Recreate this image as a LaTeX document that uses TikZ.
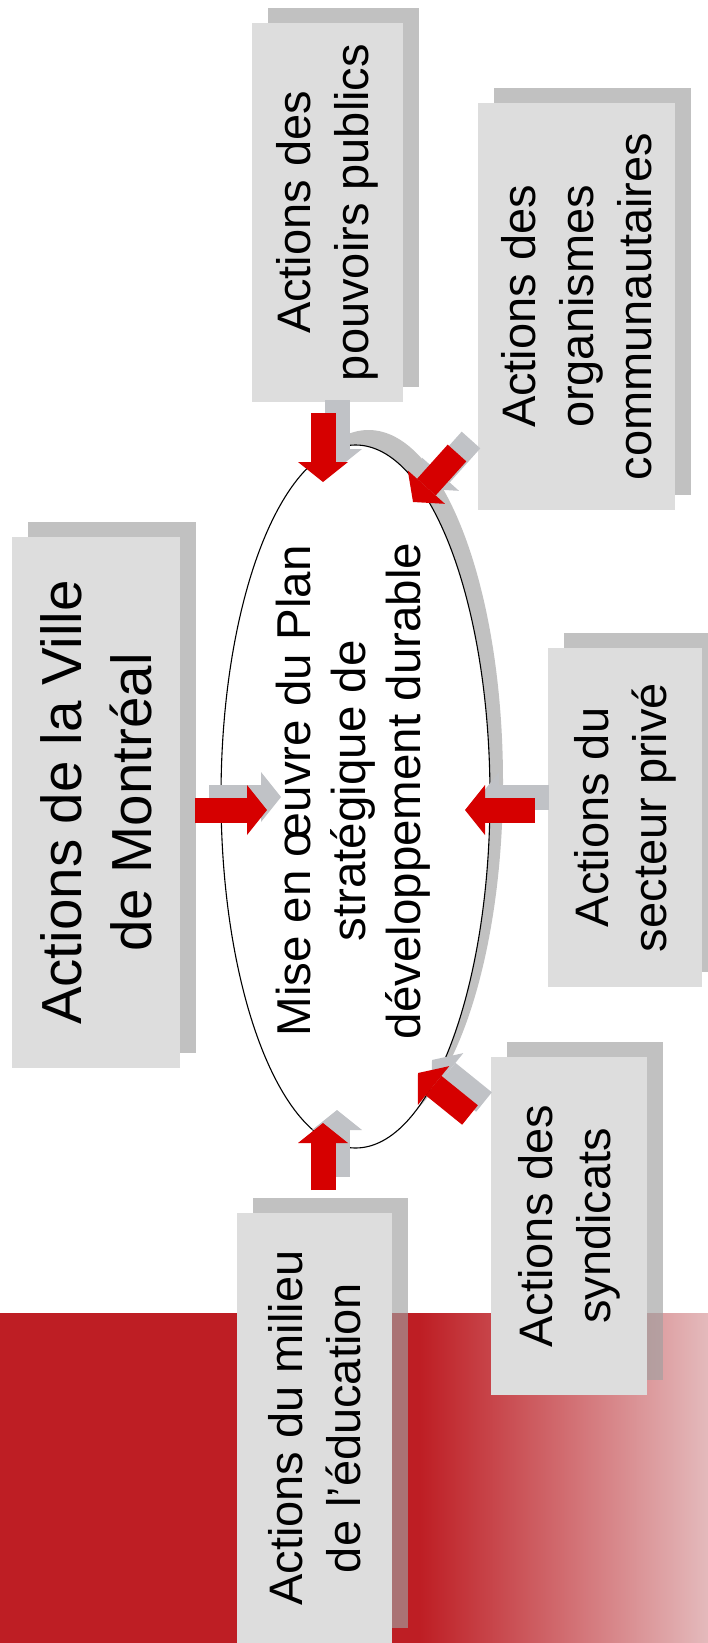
\documentclass[tikz,border=0pt]{standalone}
\usepackage{fontspec}
\setmainfont{Liberation Sans}
\usetikzlibrary{shapes.geometric,arrows.meta,calc,backgrounds}

\definecolor{boxgray}{RGB}{221,221,221}
\definecolor{shadowgray}{RGB}{160,160,160}
\definecolor{arrowred}{RGB}{214,0,0}
\definecolor{arrowshadow}{RGB}{192,194,198}
\definecolor{bandred}{RGB}{190,30,36}
\definecolor{bandpink}{RGB}{228,186,188}

\tikzset{
  actor/.style={rotate=90, fill=boxgray, inner sep=0pt, align=center,
    font=\fontsize{47}{58}\selectfont},
  boxshadow/.style={fill=shadowgray, fill opacity=0.65},
  flow/.style={draw=arrowred, line width=25pt,
    -{Triangle[width=50pt,length=20pt,line width=0pt]}},
  flowshadow/.style={flow, draw=arrowshadow},
}

\begin{document}
\begin{tikzpicture}[x=1pt,y=-1pt]
  \useasboundingbox (0,0) rectangle (708,1643);

  % Actors
  \node[actor, minimum width=531pt, minimum height=168pt,
    font=\fontsize{56.5}{70}\selectfont] (ville) at (96,802.5)
    {Actions de la Ville\\de Montréal};
  \node[actor, minimum width=379pt, minimum height=151pt] (pouvoirs) at (327.5,212.5)
    {Actions des\\pouvoirs publics};
  \node[actor, minimum width=407pt, minimum height=197pt] (organismes) at (576.5,306.5)
    {Actions des\\organismes\\communautaires};
  \node[actor, minimum width=339pt, minimum height=154pt] (secteur) at (625,817.5)
    {Actions du\\secteur privé};
  \node[actor, minimum width=338pt, minimum height=156pt] (syndicats) at (569,1226)
    {Actions des\\syndicats};
  \node[actor, minimum width=430pt, minimum height=155pt] (education) at (314.5,1428)
    {Actions du milieu\\de l’éducation};

  % Plan
  \node[ellipse, draw, line width=1.1pt, fill=white, inner sep=0pt,
    minimum width=269pt, minimum height=703pt] (plan) at (355.5,796.5) {};
  \node[rotate=90, align=center, font=\fontsize{47.5}{55}\selectfont] (plantext)
    at (353,791) {Mise en œuvre du Plan\\stratégique de\\développement durable};

  % Arrows
  \coordinate (out-ville) at (195,810);       \coordinate (in-ville) at (267,810);
  \coordinate (out-pouvoirs) at (323,413);    \coordinate (in-pouvoirs) at (323,482);
  \coordinate (out-organismes) at (457,453);  \coordinate (in-organismes) at (413,502);
  \coordinate (out-secteur) at (535,810);     \coordinate (in-secteur) at (465,810);
  \coordinate (out-syndicats) at (470,1115);  \coordinate (in-syndicats) at (418,1073);
  \coordinate (out-education) at (323,1190);  \coordinate (in-education) at (323,1123);

  \foreach \n in {ville,pouvoirs,organismes,secteur,syndicats,education}
    \draw[flowshadow] ($(out-\n)+(14,-13)$) -- ($(in-\n)+(14,-13)$);
  \foreach \n in {ville,pouvoirs,organismes,secteur,syndicats,education}
    \draw[flow] (out-\n) -- (in-\n);

  % Band and shadows
  \begin{scope}[on background layer]
    \fill[bandred] (0,1313) rectangle (421,1643);
    \shade[left color=bandred, right color=bandpink] (420,1313) rectangle (708,1643);
    \foreach \n in {ville,pouvoirs,organismes,secteur,syndicats,education}
      \fill[boxshadow] ($(\n.south west)+(16,-15)$) rectangle ($(\n.north east)+(16,-15)$);
    \fill[boxshadow] ($(plan.center)+(13,-15)$) ellipse [x radius=134.5, y radius=351.5];
  \end{scope}
\end{tikzpicture}
\end{document}
